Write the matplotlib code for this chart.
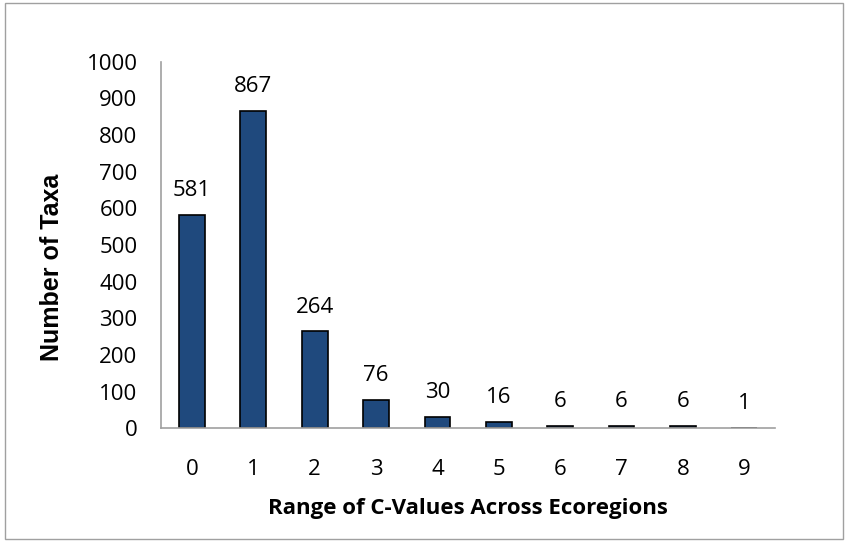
import matplotlib.pyplot as plt
from matplotlib.patches import Rectangle

categories = ['0', '1', '2', '3', '4', '5', '6', '7', '8', '9']
counts = [581, 867, 264, 76, 30, 16, 6, 6, 6, 1]

plt.rcParams['font.family'] = ['Open Sans', 'DejaVu Sans']

fig = plt.figure(figsize=(8.48, 5.42), dpi=100)
ax = fig.add_axes([0.190, 0.210, 0.724, 0.676])

x = range(len(categories))
ax.bar(x, counts, width=0.42, color='#1f497d', edgecolor='black', linewidth=1.2)
for xi, v in zip(x, counts):
    ax.text(xi, v + 38, str(v), ha='center', va='bottom', fontsize=16)

ax.set_xlim(-0.5, 9.5)
ax.set_ylim(0, 1000)
ax.set_yticks(range(0, 1001, 100))
ax.set_xticks(list(x))
ax.set_xticklabels(categories)
ax.tick_params(length=0, labelsize=16)
ax.tick_params(axis='x', pad=22)
ax.tick_params(axis='y', pad=17)
for s in ['top', 'right']:
    ax.spines[s].set_visible(False)
for s in ['left', 'bottom']:
    ax.spines[s].set_color('#a0a0a0')
    ax.spines[s].set_linewidth(1.2)

ax.set_xlabel('Range of C-Values Across Ecoregions', fontsize=16, fontweight='bold', labelpad=13)
ax.set_ylabel('Number of Taxa', fontsize=18, fontweight='bold', family='Liberation Sans')
ax.yaxis.set_label_coords(-0.158, 0.44)

fig.patches.append(Rectangle((0.006, 0.006), 0.988, 0.988, transform=fig.transFigure,
                             fill=False, edgecolor='#a0a0a0', linewidth=1))

fig.savefig('out.png', dpi=100)
